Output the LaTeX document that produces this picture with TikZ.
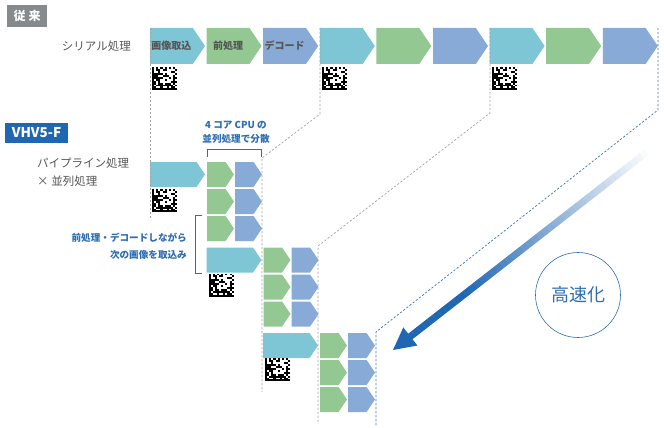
\documentclass[tikz,border=0pt]{standalone}
\usepackage{fontspec}
\setmainfont{Noto Sans CJK JP}
\usetikzlibrary{shapes.symbols,calc}

\definecolor{capcyan}{HTML}{7EC6D6}
\definecolor{procgreen}{HTML}{93C893}
\definecolor{decblue}{HTML}{88AAD6}
\definecolor{taggray}{HTML}{878A8D}
\definecolor{vhvblue}{HTML}{1F66B3}
\definecolor{notetext}{HTML}{2D6DB2}
\definecolor{labelgray}{HTML}{555555}
\definecolor{guidegray}{HTML}{A3A3A3}
\definecolor{guideblue}{HTML}{3F74AE}

\tikzset{
  stage/.style={signal, signal to=east, signal pointer angle=112, inner sep=0pt,
    outer sep=0pt, anchor=west, text=labelgray, font=\fontsize{10}{12}\selectfont\bfseries},
  bigstage/.style={stage, minimum width=55, minimum height=36},
  pipestage/.style={stage, minimum width=55, minimum height=25},
  smallstage/.style={stage, minimum width=27, minimum height=25},
  tagbox/.style={inner sep=0pt, text=white, font=\bfseries},
  rowlabel/.style={text=labelgray, inner sep=0pt, font=\fontsize{11.5}{18}\selectfont},
  note/.style={text=notetext, inner sep=0pt, font=\fontsize{9.6}{14}\selectfont\bfseries},
  guide/.style={draw=guidegray, line width=0.7pt, dash pattern=on 2.2pt off 1.8pt},
  bracket/.style={draw=notetext, line width=0.9pt},
  datamatrix/.pic={
    \pgfmathsetseed{2718}
    \fill (0,0) rectangle (2.1,23.4);
    \fill (0,21.45) rectangle (25.2,23.4);
    \foreach \i in {0,2,...,10} \fill (\i*2.1,0) rectangle ++(2.1,1.95);
    \foreach \j in {1,3,...,11} \fill (23.1,\j*1.95) rectangle ++(2.1,1.95);
    \foreach \i in {1,...,10} \foreach \j in {1,...,10} {
      \pgfmathtruncatemacro\bit{rnd>0.45}
      \ifnum\bit=1 \fill (\i*2.1,\j*1.95) rectangle ++(2.1,1.95); \fi
    }
  }
}

\begin{document}
\begin{tikzpicture}[x=1pt,y=-1pt]
\useasboundingbox (0,0) rectangle (664,428);

% serial processing
\node[tagbox, fill=taggray, minimum width=40, minimum height=22,
  font=\fontsize{12}{14}\selectfont\bfseries] (old tag) at (27,16) {従\kern3pt 来};
\node[rowlabel, anchor=east] (old label) at (131,46) {シリアル処理};
\foreach \k/\col/\txt in {0/capcyan/画像取込, 1/procgreen/前処理, 2/decblue/デコード,
    3/capcyan/{}, 4/procgreen/{}, 5/decblue/{}, 6/capcyan/{}, 7/procgreen/{}, 8/decblue/{}}
  \node[bigstage, fill=\col] (s\k) at (150+56.6*\k,46) {\txt};
\foreach \k in {0,1,2}
  \pic at (152+170*\k,67) {datamatrix};

% pipeline x parallel
\node[tagbox, fill=vhvblue, minimum width=63, minimum height=20,
  font=\fontsize{13.5}{15}\selectfont\bfseries] (new tag) at (36.5,133) {VHV5-F};
\node[rowlabel, anchor=north west, align=left] (new label) at (37,158) {パイプライン処理\\× 並列処理};
\foreach \g in {0,1,2} {
  \node[pipestage, fill=capcyan] (p\g c) at (150+56.5*\g,174.5+85.5*\g) {};
  \foreach \r in {0,1,2} {
    \node[smallstage, fill=procgreen] (p\g g\r) at (207+56.5*\g,174.5+85.5*\g+27*\r) {};
    \node[smallstage, fill=decblue] (p\g d\r) at (235+56.5*\g,174.5+85.5*\g+27*\r) {};
  }
  \pic at (152+56.5*\g,189+84.5*\g) {datamatrix};
}

% notes
\node[note, align=center] (core note) at (236,132) {4 コア CPU の\\並列処理で分散};
\draw[bracket] (207,157) -- (207,149) -- (261,149) -- (261,157);
\node[note, align=right, anchor=east, font=\fontsize{9.6}{17}\selectfont\bfseries]
  (overlap note) at (187,246.5) {前処理・デコードしながら\\次の画像を取込み};
\draw[bracket] (202,215) -- (195,215) -- (195,273) -- (202,273);

% time guides
\coordinate (t0 top) at (150,28);  \coordinate (t0 end) at (150,218);
\coordinate (t1 top) at (320,28);  \coordinate (t1 knee) at (320,114);
\coordinate (t1 bend) at (262,158); \coordinate (t1 end) at (262,392);
\coordinate (t2 top) at (490,28);  \coordinate (t2 knee) at (490,113);
\coordinate (t2 bend) at (318,246); \coordinate (t2 end) at (318,424);
\coordinate (t3 top) at (658,28);  \coordinate (t3 knee) at (658,110);
\coordinate (t3 bend) at (376,332); \coordinate (t3 end) at (376,426);
\draw[guide] (t0 top) -- (t0 end);
\draw[guide] (t1 top) -- (t1 knee) -- (t1 bend) -- (t1 end);
\draw[guide] (t2 top) -- (t2 knee) -- (t2 bend) -- (t2 end);
\draw[guide, draw=guideblue] (t3 top) -- (t3 knee) -- (t3 bend) -- (t3 end);

% speed-up arrow
\coordinate (speed start) at (652,148);
\coordinate (speed tip) at (393,350);
\foreach \k in {0,...,46} {
  \pgfmathsetmacro\fade{min(100,140*\k/50)}
  \draw[line width=7pt, draw=vhvblue!\fade!white]
    ($(speed start)!\k/50!(speed tip)$) -- ($(speed start)!\k/50+0.0205!(speed tip)$);
}
\coordinate (speed base) at ($(speed tip)!22pt!(speed start)$);
\fill[vhvblue] (speed tip) -- ($(speed base)!11.5pt!90:(speed tip)$)
  -- ($(speed base)!11.5pt!-90:(speed tip)$) -- cycle;
\node[circle, draw=notetext, line width=0.6pt, minimum size=85, text=notetext,
  font=\fontsize{18}{20}\selectfont] (speed label) at (578,295) {高速化};
\end{tikzpicture}
\end{document}
